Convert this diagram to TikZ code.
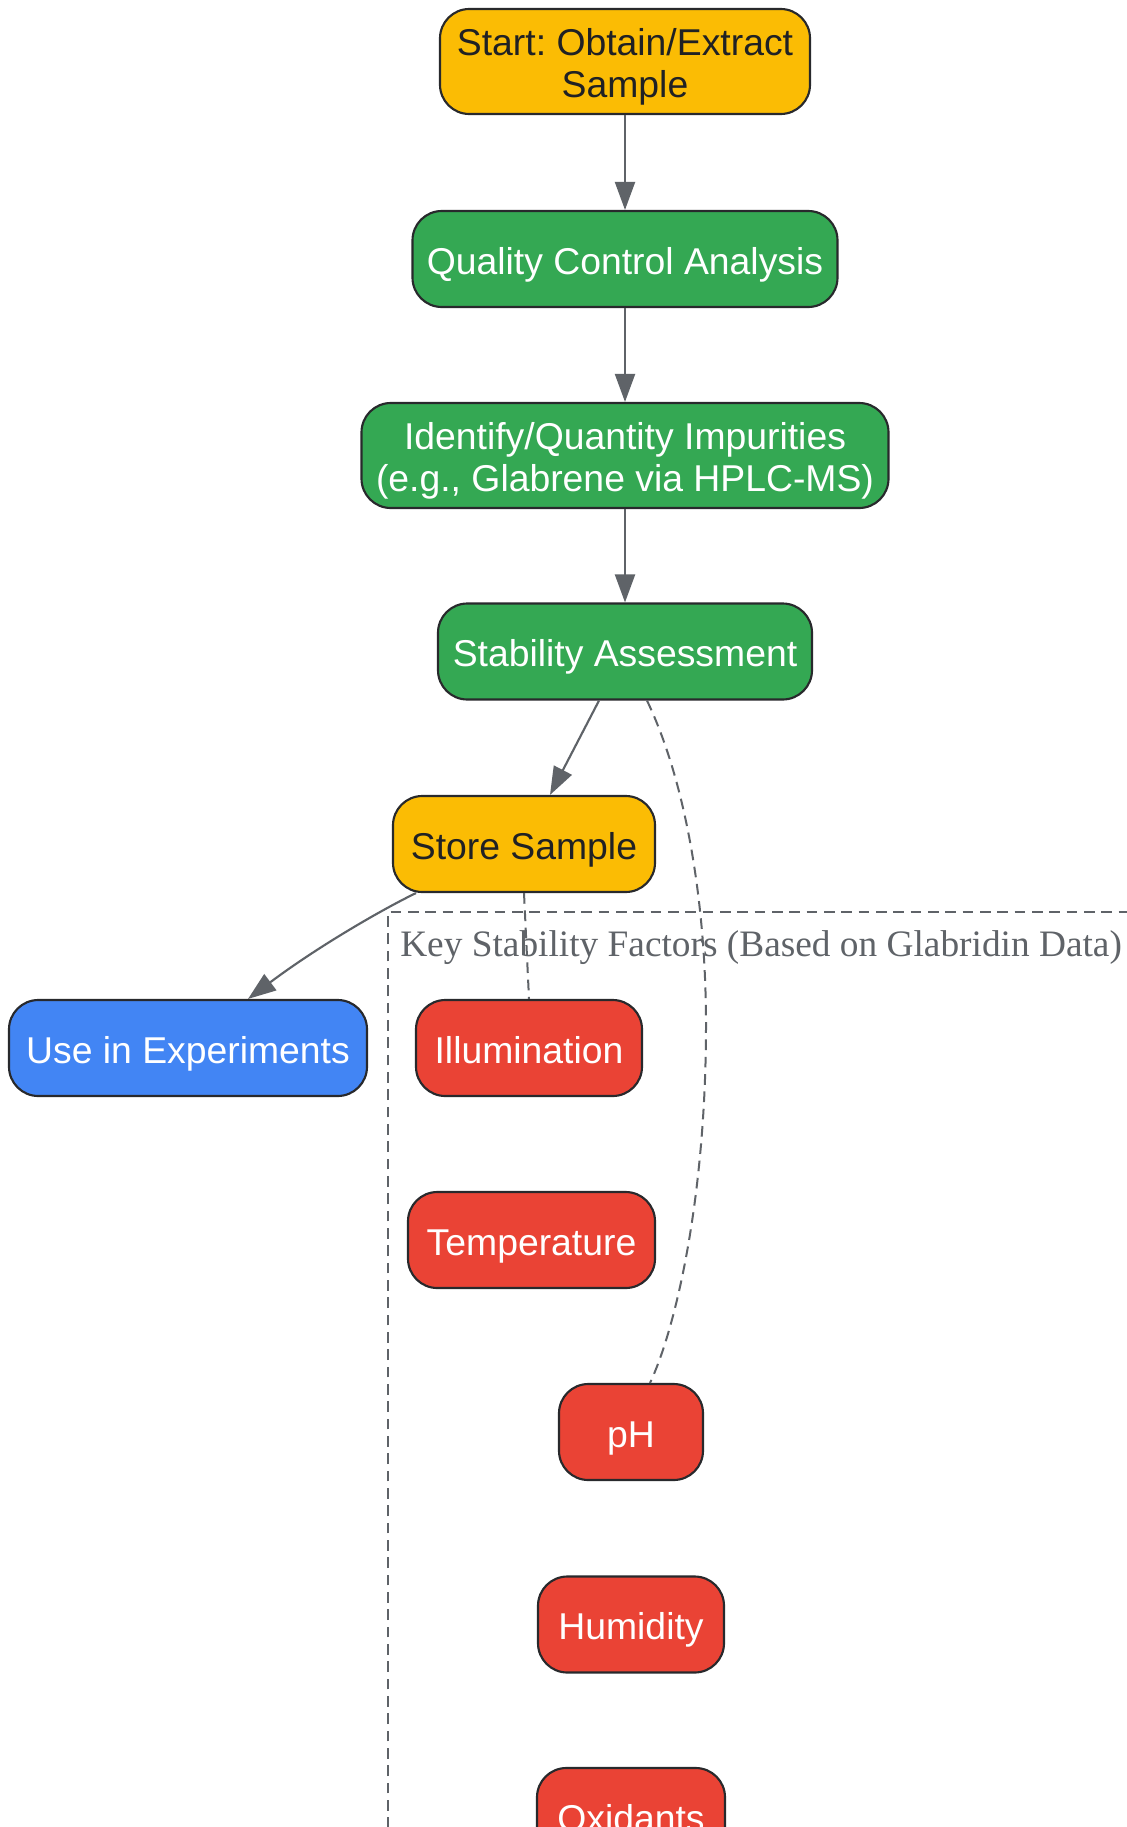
\documentclass[tikz,border=0pt]{standalone}
\usepackage{fontspec}
\setmainfont{Liberation Sans}
\newfontfamily\clusterfont{Liberation Serif}
\usetikzlibrary{arrows.meta}
\frenchspacing
\definecolor{cyellow}{HTML}{FBBC04}
\definecolor{cgreen}{HTML}{34A853}
\definecolor{cblue}{HTML}{4285F4}
\definecolor{cred}{HTML}{EA4335}
\definecolor{cborder}{HTML}{28292C}
\definecolor{cdarktext}{HTML}{202124}
\definecolor{cedge}{HTML}{5F6368}
\begin{document}
\begin{tikzpicture}[x=0.75pt,y=-0.75pt,
  box/.style={draw=cborder, line width=1.6pt, rounded corners=22pt, align=center,
    font=\fontsize{28}{31.5}\selectfont, inner sep=0pt, minimum height=72pt,
    text height=23.4pt, text depth=0.8pt},
  twoline/.style={minimum height=78.75pt, text height=55pt, text depth=1.2pt},
  ybox/.style={box, fill=cyellow, text=cdarktext},
  gbox/.style={box, fill=cgreen, text=white},
  bbox/.style={box, fill=cblue, text=white},
  rbox/.style={box, fill=cred, text=white},
  flow/.style={draw=cedge, line width=1.6pt, -{Triangle[length=21pt,width=15pt]}},
  link/.style={draw=cedge, line width=1.5pt, dash pattern=on 8pt off 5pt},
  clusterbox/.style={draw=cedge, line width=1.5pt, dash pattern=on 8pt off 5pt},
  clusterlabel/.style={font=\clusterfont\fontsize{28}{31.5}\selectfont, text=cedge, inner sep=0pt, anchor=west}
]
\useasboundingbox (0,0) rectangle (1127,1827);
\clip (0,0) rectangle (1127,1827);
\fill[white] (0,0) rectangle (1127,1827);

% cluster
\draw[clusterbox] (388,1880) -- (388,912) -- (1160,912);
\node[clusterlabel] (clab) at (400,948) {Key Stability Factors (Based on Glabridin Data)};

% nodes
\node[ybox, twoline, minimum width=277.5pt] (start) at (625,61.5) {Start: Obtain/Extract\\Sample};
\node[gbox, minimum width=318.75pt] (qc) at (625,259) {Quality Control Analysis};
\node[gbox, twoline, minimum width=395.25pt] (idn) at (625,455.5) {Identify/Quantity Impurities\\(e.g., Glabrene via HPLC-MS)};
\node[gbox, minimum width=280.5pt] (stab) at (625,651.5) {Stability Assessment};
\node[ybox, minimum width=196.5pt] (store) at (524,844) {Store Sample};
\node[bbox, minimum width=268.5pt] (use) at (188,1048) {Use in Experiments};
\node[rbox, minimum width=169.5pt] (illum) at (529,1048) {Illumination};
\node[rbox, minimum width=185.25pt] (temp) at (531.5,1240) {Temperature};
\node[rbox, minimum width=108pt] (ph) at (631,1432) {pH};
\node[rbox, minimum width=139.5pt] (hum) at (631,1624.5) {Humidity};
\node[rbox, minimum width=141pt] (oxi) at (631,1816) {Oxidants};

% edges
\draw[flow] (start.south) -- (qc.north);
\draw[flow] (qc.south) -- (idn.north);
\draw[flow] (idn.south) -- (stab.north);
\draw[flow] ([xshift=-19.5pt]stab.south) -- ([xshift=19.5pt]store.north);
\draw[flow] ([xshift=-81pt]store.south) .. controls (385,908) and (320,945) .. ([xshift=45pt]use.north);
\draw[link] (store.south) -- (illum.north);
\draw[link] ([xshift=16.5pt]stab.south) .. controls (685,780) and (706,900) .. (706,1025)
  .. controls (706,1200) and (675,1330) .. ([xshift=14.25pt]ph.north);
\end{tikzpicture}
\end{document}
